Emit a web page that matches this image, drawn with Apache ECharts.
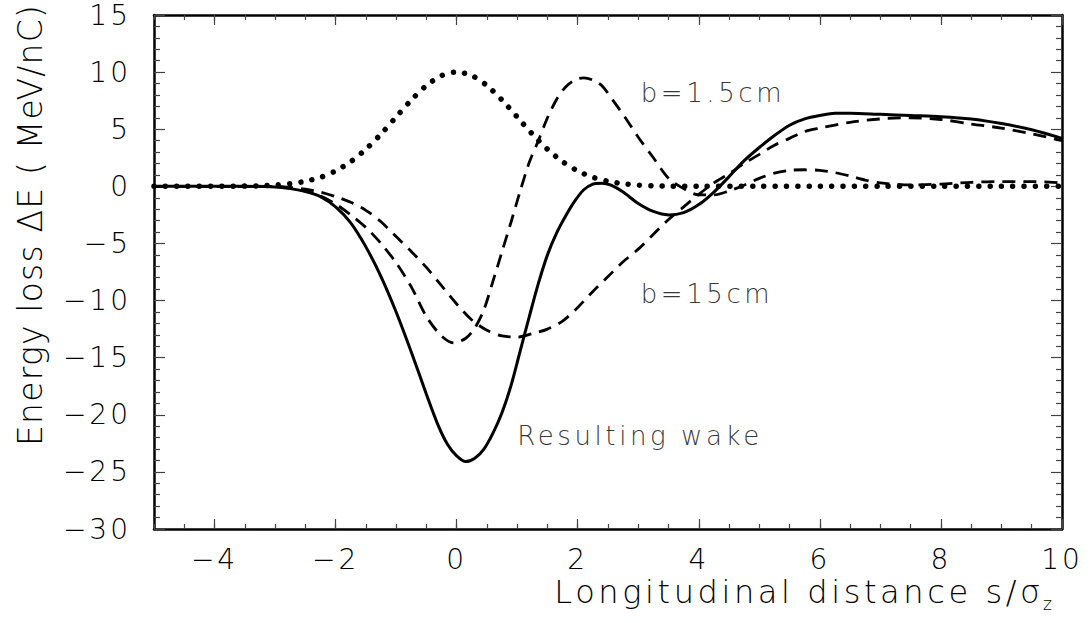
<!DOCTYPE html>
<html>
<head>
<meta charset="utf-8">
<script src="https://cdn.jsdelivr.net/npm/echarts@6/dist/echarts.min.js"></script>
<style>
  html, body { margin: 0; padding: 0; background: #fff; }
  #chart { width: 1090px; height: 623px; }
  /* open, evenly spaced lettering, keyed on each text role's font size */
  #chart text[style*="28px"] { letter-spacing: 3px; }
  #chart text[style*="26px"] { letter-spacing: 3.6px; }
  #chart text[style*="32px"] { letter-spacing: 3.6px; }
  #chart text[style*="33px"] { letter-spacing: 1.2px; }
</style>
</head>
<body>
<div id="chart"></div>
<script>
// Longitudinal positions (units of sigma_z) and energy loss (MeV/nC)

// Bunch line-density profile (dotted)
const bunchX = [-5, -4.5, -4, -3.5, -3.25, -3, -2.75, -2.5, -2.25, -2, -1.75, -1.5, -1.25, -1, -0.75, -0.5, -0.25, 0,
  0.25, 0.5, 0.75, 1, 1.25, 1.5, 1.75, 2, 2.25, 2.5, 2.75, 3, 3.25, 3.5, 4, 5, 6, 7, 8, 9, 10];
const bunchY = [0, 0, 0, 0.02, 0.05, 0.11, 0.23, 0.44, 0.79, 1.35, 2.16, 3.25, 4.58, 6.07, 7.55, 8.82, 9.69, 10,
  9.69, 8.82, 7.55, 6.07, 4.58, 3.25, 2.16, 1.35, 0.79, 0.44, 0.23, 0.11, 0.05, 0.02, 0, 0, 0, 0, 0, 0, 0];

// Wake of the b = 1.5 cm section (dashed)
const wakeSmallX = [-5, -4, -3, -2.75, -2.5, -2.25, -2, -1.75, -1.5, -1.25, -1, -0.75, -0.5, -0.25, -0.05, 0.15, 0.3,
  0.45, 0.6, 0.75, 0.9, 1.05, 1.2, 1.35, 1.5, 1.65, 1.8, 1.95, 2.1, 2.25, 2.4, 2.6, 2.8, 3, 3.25, 3.5, 3.75, 4, 4.25,
  4.5, 4.75, 5, 5.25, 5.5, 5.75, 6, 6.25, 6.5, 6.75, 7, 7.5, 8, 8.5, 9, 9.5, 10];
const wakeSmallY = [0, 0, 0, -0.15, -0.4, -0.85, -1.55, -2.5, -3.6, -5.0, -6.7, -8.8, -11.4, -13.1, -13.7, -13.3, -12.4,
  -10.8, -8.3, -5.7, -3.1, -0.4, 2.1, 4.0, 6.0, 7.6, 8.7, 9.3, 9.5, 9.3, 8.8, 7.4, 5.9, 4.3, 2.5, 0.7, -0.2, -0.75, -0.75,
  -0.4, 0.1, 0.7, 1.15, 1.4, 1.45, 1.4, 1.2, 0.9, 0.55, 0.3, 0.12, 0.2, 0.35, 0.42, 0.42, 0.3];

// Wake of the b = 15 cm section (dashed)
const wakeLargeX = [-5, -4, -3, -2.75, -2.5, -2.25, -2, -1.75, -1.5, -1.25, -1, -0.75, -0.5, -0.25, 0, 0.25, 0.5, 0.75,
  1, 1.25, 1.5, 1.75, 2, 2.25, 2.5, 2.75, 3, 3.25, 3.5, 3.75, 4, 4.25, 4.5, 4.75, 5, 5.25, 5.5, 5.75, 6, 6.5, 7, 7.5,
  8, 8.5, 9, 9.5, 10];
const wakeLargeY = [0, 0, 0, -0.1, -0.25, -0.5, -0.9, -1.4, -2.1, -3.1, -4.4, -5.7, -7.1, -8.7, -10.3, -11.7, -12.6, -13.1,
  -13.2, -12.9, -12.5, -11.8, -10.6, -9.2, -7.9, -6.6, -5.5, -4.2, -2.9, -1.8, -0.7, 0.3, 1.1, 2.0, 2.8, 3.6, 4.2, 4.8,
  5.1, 5.6, 5.9, 6.0, 5.85, 5.45, 5.1, 4.6, 4.0];

// Resulting wake (solid)
const wakeSumX = [-5, -4, -3.5, -3, -2.75, -2.5, -2.25, -2, -1.75, -1.5, -1.25, -1, -0.75, -0.5, -0.3, -0.15, 0, 0.15,
  0.3, 0.45, 0.6, 0.75, 0.9, 1.05, 1.2, 1.35, 1.5, 1.65, 1.8, 1.95, 2.1, 2.25, 2.4, 2.55, 2.75, 3, 3.25, 3.5, 3.75, 4,
  4.25, 4.5, 4.75, 5, 5.25, 5.5, 5.75, 6, 6.25, 6.5, 7, 7.5, 8, 8.5, 9, 9.5, 10];
const wakeSumY = [0, 0, 0, -0.05, -0.2, -0.45, -0.9, -1.8, -3.2, -5.3, -7.9, -11.0, -14.5, -18.2, -21.0, -22.6, -23.6, -24.1,
  -23.8, -23.0, -21.6, -19.8, -17.4, -14.4, -11.4, -8.5, -6.0, -4.1, -2.6, -1.3, -0.3, 0.2, 0.28, 0.1, -0.5, -1.5, -2.2,
  -2.5, -2.3, -1.6, -0.5, 0.85, 2.25, 3.4, 4.45, 5.35, 5.9, 6.2, 6.4, 6.4, 6.3, 6.2, 6.1, 5.9, 5.5, 4.95, 4.2];

// Curve annotations: [s, energy loss, text]
const notes = [
  [3.04, 8.2, 'b=1.5cm'],
  [3.04, -9.4, 'b=15cm'],
  [1.0, -21.9, 'Resulting wake']
];

// Axis ranges; labelled (major) x positions
const xRange = { min: -5, max: 10, step: 0.5 };
const yRange = { min: -30, max: 15, interval: 5 };
const xMajor = [-4, -2, 0, 2, 4, 6, 8, 10];

const FONT = 'DejaVu Sans';
const INK = '#000';
const TICK = { color: '#444', width: 1.2 };
const minus = v => (v < 0 ? '\u2212' + Math.abs(v) : String(v));
const pairs = (xs, ys) => xs.map((x, i) => [x, ys[i]]);

// x axis: minor ticks every half unit, plus an overlaid axis carrying the long ticks
const xMinorAxis = (position, labels) => ({
  type: 'value', position, min: xRange.min, max: xRange.max, interval: xRange.step,
  splitLine: { show: false },
  axisLine: { show: true, onZero: false, lineStyle: { color: '#000', width: 2.5 } },
  axisTick: { show: true, inside: true, length: 5, lineStyle: TICK },
  axisLabel: labels ? {
    show: true, customValues: xMajor, margin: 16, fontFamily: FONT, fontSize: 28, fontWeight: 200,
    color: INK, formatter: minus
  } : { show: false }
});
const xMajorAxis = (position) => ({
  type: 'value', position, min: xRange.min, max: xRange.max, interval: xRange.step,
  splitLine: { show: false },
  axisLine: { show: false, onZero: false },
  axisTick: { show: true, inside: true, length: 10, customValues: xMajor, lineStyle: TICK },
  axisLabel: { show: false }
});
const yAxisDef = (position, labels) => ({
  type: 'value', position, min: yRange.min, max: yRange.max, interval: yRange.interval,
  splitLine: { show: false },
  axisLine: { show: true, onZero: false, lineStyle: { color: '#000', width: 2.5 } },
  axisTick: { show: true, inside: true, length: 11, lineStyle: TICK },
  minorTick: { show: true, splitNumber: 5, length: 6, lineStyle: TICK },
  axisLabel: labels ? {
    show: true, margin: 23, fontFamily: FONT, fontSize: 28, fontWeight: 200, color: INK, formatter: minus
  } : { show: false }
});

const chart = echarts.init(document.getElementById('chart'), null, { renderer: 'svg' });

chart.setOption({
  animation: false,
  backgroundColor: '#fff',
  grid: { left: 154, right: 28, top: 15, bottom: 94 },
  xAxis: [xMinorAxis('bottom', true), xMajorAxis('bottom'), xMinorAxis('top', false), xMajorAxis('top')],
  yAxis: [yAxisDef('left', true), yAxisDef('right', false)],
  series: [
    {
      name: 'bunch', type: 'line', data: pairs(bunchX, bunchY), showSymbol: false, smooth: 0.3,
      lineStyle: { color: '#000', width: 5.5, type: [0.01, 11.3], cap: 'round' }, z: 3
    },
    {
      name: 'b=1.5cm', type: 'line', data: pairs(wakeSmallX, wakeSmallY), showSymbol: false, smooth: 0.3,
      lineStyle: { color: '#000', width: 2.8, type: [13, 8] }, z: 2
    },
    {
      name: 'b=15cm', type: 'line', data: pairs(wakeLargeX, wakeLargeY), showSymbol: false, smooth: 0.3,
      lineStyle: { color: '#000', width: 2.8, type: [13, 8] }, z: 2
    },
    {
      name: 'Resulting wake', type: 'line', data: pairs(wakeSumX, wakeSumY), showSymbol: false, smooth: 0.3,
      lineStyle: { color: '#000', width: 3 }, z: 4
    },
    {
      name: 'notes', type: 'scatter', symbolSize: 0, silent: true,
      data: notes.map(n => ({ value: [n[0], n[1]], name: n[2] })),
      label: {
        show: true, position: 'right', distance: 0, formatter: p => p.name,
        fontFamily: FONT, fontSize: 26, fontWeight: 200, color: INK
      }
    }
  ],
  graphic: [
    {
      type: 'text', x: 1044, y: 592,
      style: {
        text: 'Longitudinal distance s/σ', fontFamily: FONT, fontSize: 32, fontWeight: 200,
        fill: INK, align: 'right', verticalAlign: 'middle'
      }
    },
    {
      type: 'text', x: 1043, y: 604,
      style: {
        text: 'z', fontFamily: FONT, fontSize: 17, fontWeight: 200,
        fill: INK, align: 'left', verticalAlign: 'middle'
      }
    },
    {
      type: 'text', x: 30, y: 225, rotation: Math.PI / 2,
      style: {
        text: 'Energy loss ΔE ( MeV/nC)', fontFamily: FONT, fontSize: 33, fontWeight: 200,
        fill: INK, align: 'center', verticalAlign: 'middle'
      }
    }
  ]
});
</script>
</body>
</html>
